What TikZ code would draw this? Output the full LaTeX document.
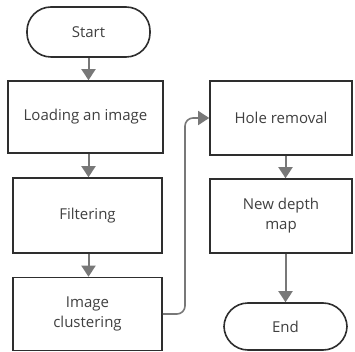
\documentclass[tikz,border=0pt]{standalone}
\usepackage{fontspec}
\setmainfont{Open Sans}
\usetikzlibrary{arrows.meta}
\definecolor{txt}{HTML}{404040}
\definecolor{edge}{HTML}{2E2E2E}
\definecolor{arr}{HTML}{787878}
\begin{document}
\begin{tikzpicture}[x=1pt,y=-1pt,
  box/.style={draw=edge,line width=1.6pt,fill=white,text=txt,align=center,font=\fontsize{15}{20}\selectfont,inner sep=0pt},
  term/.style={box,rounded corners=24pt},
  flow/.style={draw=arr,line width=2pt,-{Triangle[width=14pt,length=11pt]}}]
\useasboundingbox (0,0) rectangle (355,352);
\node[term,minimum width=123pt,minimum height=50pt] (start) at (88.5,32) {Start};
\node[box,minimum width=155pt,minimum height=72pt] (load) at (85.5,117) {Loading an image};
\node[box,minimum width=149pt,minimum height=75pt] (filt) at (87.5,215.5) {Filtering};
\node[box,minimum width=149pt,minimum height=73pt] (clus) at (87.5,314) {Image\\clustering};
\node[box,minimum width=142pt,minimum height=74pt] (hole) at (281,118) {Hole removal};
\node[box,minimum width=142pt,minimum height=74pt] (newd) at (281,216) {New depth\\map};
\node[term,minimum width=123pt,minimum height=47pt] (end) at (285.5,326.5) {End};
\coordinate (bend) at (185,0);
\draw[flow] (start.south) -- (start.south |- load.north);
\draw[flow] (load.south -| start.south) -- (filt.north -| start.south);
\draw[flow] (filt.south -| start.south) -- (clus.north -| start.south);
\draw[flow] (hole.south -| end.north) -- (newd.north -| end.north);
\draw[flow] (newd.south -| end.north) -- (end.north);
\draw[flow,line width=1.6pt,rounded corners=8pt] (clus.east) -| (bend |- hole.west) -- (hole.west);
\end{tikzpicture}
\end{document}
